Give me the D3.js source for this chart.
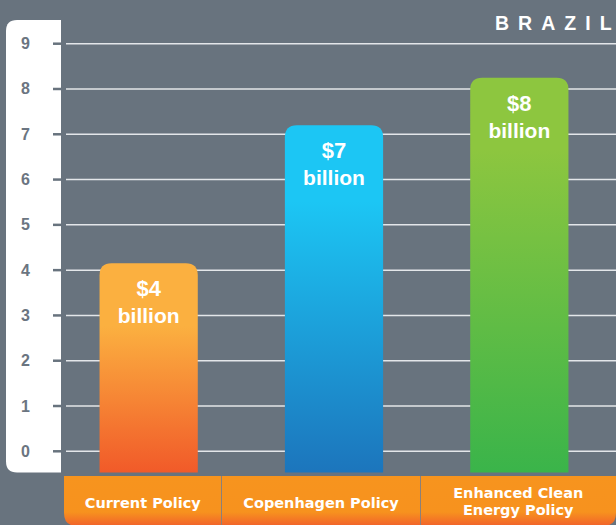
<!DOCTYPE html>
<html>
<head>
<meta charset="utf-8">
<script src="https://cdn.jsdelivr.net/npm/d3@7"></script>
<style>
  body { margin: 0; background: #68737e; }
  svg { display: block; }
</style>
</head>
<body>
<script>
// data
var categories = ["Current Policy", "Copenhagen Policy", "Enhanced Clean Energy Policy"];
var categoryLines = [["Current Policy"], ["Copenhagen Policy"], ["Enhanced Clean", "Energy Policy"]];
var values = [4.15, 7.2, 8.25];
var valueLabels = ["$4", "$7", "$8"];
var tickValues = [0, 1, 2, 3, 4, 5, 6, 7, 8, 9];
var title = "BRAZIL";

var width = 616;
var height = 525;
var barBottom = 472.6;
var boxEdges = [64, 221.5, 420.5, 616];

var svg = d3.select("body").append("svg")
  .attr("width", width)
  .attr("height", height);

var defs = svg.append("defs");

// bar gradients: flat colour on top, fading to the darker tone at the base
var grads = [
  { id: "gOrange", top: "#fbb040", hold: 0.3, bottom: "#f15a29" },
  { id: "gBlue", top: "#1cc6f4", hold: 0.22, bottom: "#1c75bc" },
  { id: "gGreen", top: "#8dc63f", hold: 0.18, bottom: "#3ab44a" }
];
grads.forEach(function (g) {
  var lg = defs.append("linearGradient").attr("id", g.id)
    .attr("x1", 0).attr("y1", 0).attr("x2", 0).attr("y2", 1);
  lg.append("stop").attr("offset", 0).attr("stop-color", g.top);
  lg.append("stop").attr("offset", g.hold).attr("stop-color", g.top);
  lg.append("stop").attr("offset", 1).attr("stop-color", g.bottom);
});

var boxGrad = defs.append("linearGradient").attr("id", "gBox")
  .attr("x1", 0).attr("y1", 0).attr("x2", 0).attr("y2", 1);
boxGrad.append("stop").attr("offset", 0).attr("stop-color", "#f7941e");
boxGrad.append("stop").attr("offset", 0.72).attr("stop-color", "#f7921e");
boxGrad.append("stop").attr("offset", 1).attr("stop-color", "#f1622b");

var y = d3.scaleLinear()
  .domain([0, 9])
  .range([451.3, 43.7]);

var x = d3.scaleBand()
  .domain(categories)
  .range([56, 612])
  .paddingInner(0.47)
  .paddingOuter(0.235);

// white axis panel with rounded left corners
var px0 = 6, px1 = 61, py0 = 20, py1 = 472.6, r = 11;
svg.append("path")
  .attr("d", "M" + px1 + "," + py0 + " L" + (px0 + r) + "," + py0 +
    " Q" + px0 + "," + py0 + " " + px0 + "," + (py0 + r) +
    " L" + px0 + "," + (py1 - r) +
    " Q" + px0 + "," + py1 + " " + (px0 + r) + "," + py1 +
    " L" + px1 + "," + py1 + " Z")
  .attr("fill", "#ffffff");

// gridlines
svg.append("g").selectAll("line")
  .data(tickValues)
  .enter().append("line")
  .attr("x1", 66).attr("x2", width)
  .attr("y1", function (d) { return y(d); })
  .attr("y2", function (d) { return y(d); })
  .attr("stroke", "#e3e6e9")
  .attr("stroke-width", 1.5);

// axis ticks + labels
var ticks = svg.append("g").selectAll("g")
  .data(tickValues)
  .enter().append("g")
  .attr("transform", function (d) { return "translate(0," + y(d) + ")"; });

ticks.append("line")
  .attr("x1", 53).attr("x2", 61)
  .attr("stroke", "#68737e")
  .attr("stroke-width", 2.5);

ticks.append("text")
  .attr("x", 25.5)
  .attr("dy", 5.5)
  .attr("text-anchor", "middle")
  .attr("fill", "#6b7581")
  .style("font-family", "'Liberation Sans', Arial, sans-serif")
  .style("font-weight", "bold")
  .style("font-size", "16px")
  .text(function (d) { return d; });

// bars with rounded tops
function barPath(x0, w, top, bottom, rr) {
  return "M" + x0 + "," + bottom +
    " L" + x0 + "," + (top + rr) +
    " Q" + x0 + "," + top + " " + (x0 + rr) + "," + top +
    " L" + (x0 + w - rr) + "," + top +
    " Q" + (x0 + w) + "," + top + " " + (x0 + w) + "," + (top + rr) +
    " L" + (x0 + w) + "," + bottom + " Z";
}

var bars = svg.append("g").selectAll("g")
  .data(categories)
  .enter().append("g");

bars.append("path")
  .attr("d", function (d, i) {
    return barPath(x(d), x.bandwidth(), y(values[i]), barBottom, 12);
  })
  .attr("fill", function (d, i) { return "url(#" + grads[i].id + ")"; });

bars.append("text")
  .attr("x", function (d) { return x(d) + x.bandwidth() / 2; })
  .attr("y", function (d, i) { return y(values[i]) + 33; })
  .attr("text-anchor", "middle")
  .attr("fill", "#ffffff")
  .style("font-family", "'Liberation Sans', Arial, sans-serif")
  .style("font-weight", "bold")
  .style("font-size", "22px")
  .text(function (d, i) { return valueLabels[i]; });

bars.append("text")
  .attr("x", function (d) { return x(d) + x.bandwidth() / 2; })
  .attr("y", function (d, i) { return y(values[i]) + 60; })
  .attr("text-anchor", "middle")
  .attr("fill", "#ffffff")
  .style("font-family", "'Liberation Sans', Arial, sans-serif")
  .style("font-weight", "bold")
  .style("font-size", "21px")
  .text("billion");

// category label strip
var boxTop = 476, boxBot = 526, br = 13;
svg.append("path")
  .attr("d", "M" + boxEdges[0] + "," + boxTop +
    " L" + boxEdges[3] + "," + boxTop +
    " L" + boxEdges[3] + "," + (boxBot - br) +
    " Q" + boxEdges[3] + "," + boxBot + " " + (boxEdges[3] - br) + "," + boxBot +
    " L" + (boxEdges[0] + br) + "," + boxBot +
    " Q" + boxEdges[0] + "," + boxBot + " " + boxEdges[0] + "," + (boxBot - br) + " Z")
  .attr("fill", "url(#gBox)");

svg.append("g").selectAll("line")
  .data(boxEdges.slice(1, 3))
  .enter().append("line")
  .attr("x1", function (d) { return d; })
  .attr("x2", function (d) { return d; })
  .attr("y1", boxTop).attr("y2", height)
  .attr("stroke", "#8c8079")
  .attr("stroke-width", 1);

var catText = svg.append("g").selectAll("text")
  .data(categoryLines)
  .enter().append("text")
  .attr("text-anchor", "middle")
  .attr("fill", "#ffffff")
  .style("font-family", "'DejaVu Sans', sans-serif")
  .style("font-weight", "bold")
  .style("font-size", "14.5px");

catText.selectAll("tspan")
  .data(function (d, i) {
    return d.map(function (t, j) { return { t: t, i: i, j: j, n: d.length }; });
  })
  .enter().append("tspan")
  .attr("x", function (d) { return (boxEdges[d.i] + boxEdges[d.i + 1]) / 2; })
  .attr("y", function (d) { return d.n === 1 ? 507.5 : 498 + d.j * 17; })
  .text(function (d) { return d.t; });

// title, spaced out letter by letter
svg.append("text")
  .attr("x", 495)
  .attr("y", 30)
  .attr("fill", "#ffffff")
  .style("font-family", "'Liberation Sans', Arial, sans-serif")
  .style("font-weight", "bold")
  .style("font-size", "19.5px")
  .selectAll("tspan")
  .data(title.split(""))
  .enter().append("tspan")
  .attr("dx", function (d, i) { return i === 0 ? 0 : 9; })
  .text(function (d) { return d; });
</script>
</body>
</html>
